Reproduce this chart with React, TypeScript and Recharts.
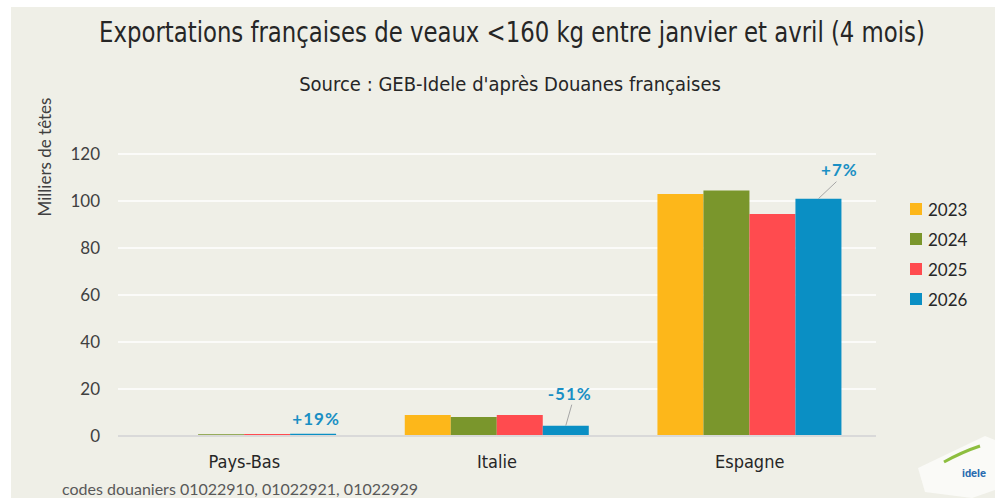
import React from "react";
import { BarChart, Bar, XAxis, YAxis, CartesianGrid, Legend } from "recharts";

const categories = ["Pays-Bas", "Italie", "Espagne"];
const exports2023 = [0, 8.9, 103];
const exports2024 = [0.7, 8.1, 104.5];
const exports2025 = [0.8, 8.9, 94.5];
const exports2026 = [0.95, 4.4, 101];
const changeLabels = ["+19%", "-51%", "+7%"];
const yTicks = [0, 20, 40, 60, 80, 100, 120];

const series = [
  { key: "y2023", name: "2023", color: "#FDB71A" },
  { key: "y2024", name: "2024", color: "#7A962C" },
  { key: "y2025", name: "2025", color: "#FF4B4F" },
  { key: "y2026", name: "2026", color: "#0A8FC4" },
];

const data = categories.map((name, i) => ({
  name,
  y2023: exports2023[i],
  y2024: exports2024[i],
  y2025: exports2025[i],
  y2026: exports2026[i],
}));

const BG = "#EFEFE7";
const NARROW = "'DejaVu Sans Condensed', 'Liberation Sans Narrow', Roboto, sans-serif";
const LATO = "Lato, 'Noto Sans', sans-serif";

// where each % label sits relative to the top centre of the 2026 bar
const labelPlacement = [
  { dx: 3, dy: -9, line: null },
  { dx: 4, dy: -26, line: [6, -21] },
  { dx: 21, dy: -23, line: [18, -17] },
];

function ChangeLabel(props: any) {
  const { x, y, width, index } = props;
  const p = labelPlacement[index];
  if (!p) return null;
  const cx = x + width / 2;
  return (
    <g>
      {p.line && (
        <line x1={cx + p.line[0]} y1={y + p.line[1]} x2={cx} y2={y} stroke="#A6A6A6" strokeWidth={1} />
      )}
      <text
        x={cx + p.dx}
        y={y + p.dy}
        textAnchor="middle"
        fill="#1A8FC4"
        fontFamily={LATO}
        fontWeight={700}
        fontSize={17}
        letterSpacing={1}
      >
        {changeLabels[index]}
      </text>
    </g>
  );
}

function LegendContent() {
  return (
    <div style={{ fontFamily: LATO, fontSize: 17, color: "#262626" }}>
      {series.map((s) => (
        <div key={s.key} style={{ display: "flex", alignItems: "center", height: 30 }}>
          <span style={{ width: 12, height: 12, background: s.color, marginRight: 6 }} />
          {s.name}
        </div>
      ))}
    </div>
  );
}

export default function App() {
  return (
    <div style={{ position: "absolute", left: 0, top: 0, width: 995, height: 498, background: "#fff", overflow: "hidden" }}>
      <div style={{ position: "absolute", left: 11, top: 7, right: 0, bottom: 0, background: BG }} />
      <div
        style={{
          position: "absolute",
          left: 0,
          top: 16,
          width: 1024,
          textAlign: "center",
          fontFamily: NARROW,
          fontSize: 28,
          color: "#262626",
          whiteSpace: "nowrap",
          lineHeight: "34px",
          transform: "scaleX(0.905)",
          transformOrigin: "512px 0",
        }}
      >
        Exportations françaises de veaux &lt;160 kg entre janvier et avril (4 mois)
      </div>
      <div
        style={{
          position: "absolute",
          left: 0,
          top: 72,
          width: 1020,
          textAlign: "center",
          fontFamily: NARROW,
          fontSize: 20,
          color: "#262626",
          whiteSpace: "nowrap",
          lineHeight: "24px",
        }}
      >
        Source : GEB-Idele d'après Douanes françaises
      </div>
      <div style={{ position: "absolute", left: 0, top: 0 }}>
        <BarChart
          width={995}
          height={498}
          data={data}
          margin={{ top: 154, right: 119, bottom: 32, left: 58 }}
          barCategoryGap="13.5%"
          barGap={0}
        >
          <CartesianGrid vertical={false} stroke="#FFFFFF" strokeWidth={1.5} />
          <XAxis
            dataKey="name"
            height={30}
            axisLine={{ stroke: "#D9D9D9", strokeWidth: 2 }}
            tickLine={false}
            tickMargin={13}
            tick={{ fill: "#262626", fontSize: 18, fontFamily: NARROW }}
          />
          <YAxis
            width={60}
            domain={[0, 120]}
            ticks={yTicks}
            axisLine={false}
            tickLine={false}
            tickMargin={12}
            tick={{ fill: "#404040", fontSize: 17, fontFamily: LATO }}
          />
          <Legend
            layout="vertical"
            align="center"
            verticalAlign="middle"
            wrapperStyle={{ left: 910, top: 194, width: 80 }}
            content={<LegendContent />}
          />
          {series.map((s) => (
            <Bar
              key={s.key}
              dataKey={s.key}
              name={s.name}
              fill={s.color}
              isAnimationActive={false}
              label={s.key === "y2026" ? <ChangeLabel /> : undefined}
            />
          ))}
        </BarChart>
      </div>
      <svg width={995} height={498} style={{ position: "absolute", left: 0, top: 0, pointerEvents: "none" }}>
        <text x={51} y={157} transform="rotate(-90 51 157)" textAnchor="middle" fontFamily={LATO} fontSize={17} fill="#404040">
          Milliers de têtes
        </text>
        <text x={62} y={495} fontFamily={LATO} fontSize={16} fill="#595959">
          codes douaniers 01022910, 01022921, 01022929
        </text>
        <polygon points="918,468 985,436 995,440 995,490 972,498 925,492" fill="#FAFAF7" />
        <path d="M944 462 Q962 452 980 446" stroke="#8DBE3F" strokeWidth={3} fill="none" />
        <text x={962} y={477} fontFamily="Roboto, sans-serif" fontWeight={700} fontSize={11} fill="#2A6CB0">idele</text>
      </svg>
    </div>
  );
}
